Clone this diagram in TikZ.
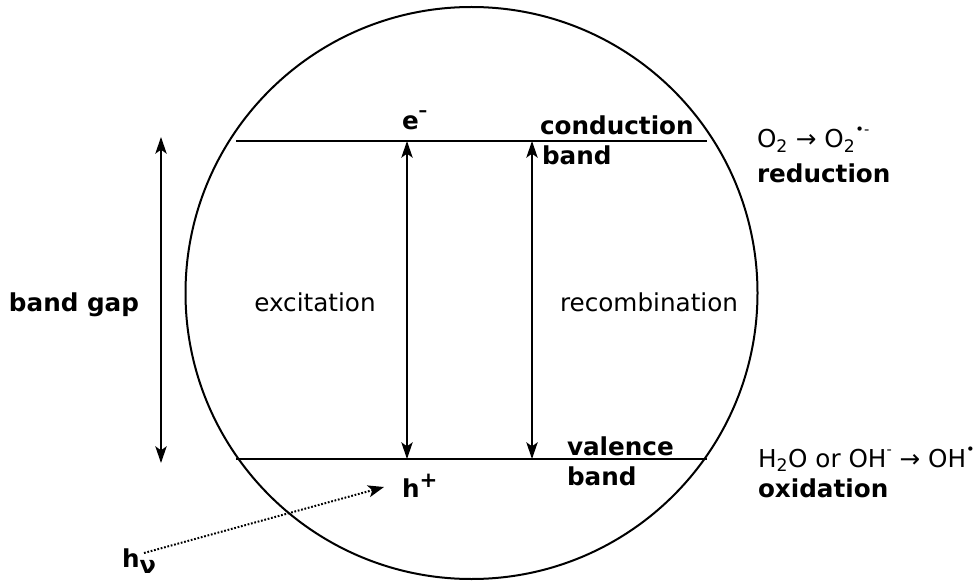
\documentclass[tikz,border=0pt]{standalone}
\usepackage{fontspec}
\setmainfont{DejaVu Sans}
\usetikzlibrary{arrows.meta}
\begin{document}
\begin{tikzpicture}[x=0.75pt,y=-0.75pt,
  line width=1.5pt,
  txt/.style={inner sep=0pt,anchor=base west,font=\fontsize{18.5}{22}\selectfont},
  btxt/.style={txt,font=\fontsize{18.5}{22}\selectfont\bfseries},
  ctxt/.style={inner sep=0pt,anchor=base,font=\fontsize{18.5}{22}\selectfont},
  tip/.style={{Stealth[length=12.5pt,width=8.5pt,inset=3pt]}-{Stealth[length=12.5pt,width=8.5pt,inset=3pt]}},
  lightarrow/.style={line width=1.5pt,dash pattern=on 1.3pt off 1.3pt,-{Stealth[length=12pt,width=9pt,inset=3pt]}}]
\useasboundingbox (0,0) rectangle (978,581);
% particle
\node[circle,draw,minimum size=2*286*0.75pt,inner sep=0pt,line width=1.5pt] (part) at (471.5,293) {};
% bands
\coordinate (cbL) at (236,141);
\coordinate (cbR) at (707,141);
\coordinate (vbL) at (236,459);
\coordinate (vbR) at (707,459);
\draw (cbL) -- (cbR);
\draw (vbL) -- (vbR);
% vertical arrows
\coordinate (exT) at (407,141);
\coordinate (exB) at (407,459);
\coordinate (reT) at (532,141);
\coordinate (reB) at (532,459);
\coordinate (bgT) at (161,137);
\coordinate (bgB) at (161,463);
\draw[tip] (exB) -- (exT);
\draw[tip] (reB) -- (reT);
\draw[tip] (bgB) -- (bgT);
% labels
\node[btxt,anchor=base] (bg) at (74,311) {band gap};
\node[ctxt] (exc) at (315,311) {excitation};
\node[ctxt] (rec) at (649,311) {recombination};
\node[btxt] (e) at (401,130) {e\raisebox{0.55em}{\fontsize{13}{13}\selectfont –}};
\node[btxt] (h) at (401,497) {h\raisebox{0.38em}{\fontsize{16}{16}\selectfont +}};
\node[btxt] (cond) at (539,135) {conduction};
\node[btxt] (cband) at (541,165) {band};
\node[btxt] (val) at (566,455) {valence};
\node[btxt] (vband) at (566,485) {band};
\node[txt] (red1) at (756,148) {O\textsubscript{2} → O\textsubscript{2}\raisebox{0.55em}{\fontsize{11}{11}\selectfont •-}};
\node[btxt] (red2) at (756,183) {reduction};
\node[txt] (ox1) at (757,467) {H\textsubscript{2}O or OH\raisebox{0.5em}{\fontsize{11}{11}\selectfont -} → OH\raisebox{0.5em}{\fontsize{11}{11}\selectfont •}};
\node[btxt] (ox2) at (757,497) {oxidation};
\node[btxt] (hv) at (121,567) {h\raisebox{-0.25em}{\fontsize{18}{18}\selectfont ν}};
% light
\coordinate (lS) at (144,553);
\coordinate (lE) at (384,487);
\draw[lightarrow] (lS) -- (lE);
\end{tikzpicture}
\end{document}
